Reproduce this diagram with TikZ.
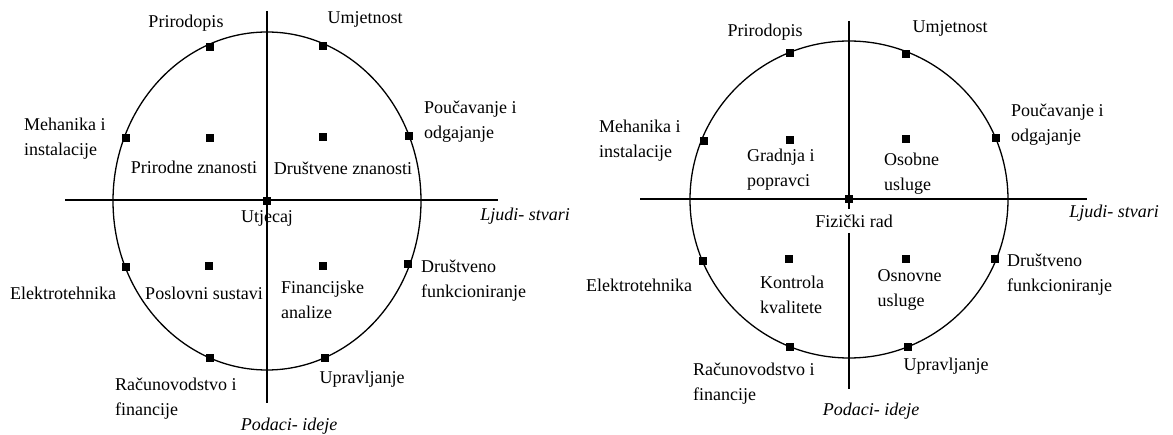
\documentclass[tikz,border=0pt]{standalone}
\usepackage{fontspec}
\setmainfont{Liberation Serif}
\begin{document}
\begin{tikzpicture}[x=1pt,y=-1pt,
  ln/.style={line width=1.3pt},
  sq/.style={rectangle,fill=black,minimum size=7.5pt,inner sep=0pt},
  lbl/.style={inner sep=0pt,font=\fontsize{18}{25}\selectfont},
  lbll/.style={lbl,align=left,anchor=west},
  axl/.style={lbl,font=\fontsize{18}{25}\selectfont\itshape}]
\useasboundingbox (0,0) rectangle (1173,435);
% ---------- left diagram ----------
\coordinate (LhW) at (65,200);
\coordinate (LhE) at (498,200);
\coordinate (LvN) at (267,11);
\coordinate (LvS) at (267,403);
\draw[ln] (267,201) ellipse [x radius=154, y radius=169];
\draw[ln] (LhW) -- (LhE);
\draw[ln] (LvN) -- (LvS);
\node[sq] (L1) at (210,47) {};
\node[sq] (L2) at (323,46) {};
\node[sq] (L3) at (126,138) {};
\node[sq] (L4) at (210,138) {};
\node[sq] (L5) at (323,137) {};
\node[sq] (L6) at (409,136) {};
\node[sq] (L0) at (267,201) {};
\node[sq] (L7) at (126,267) {};
\node[sq] (L8) at (209,266) {};
\node[sq] (L9) at (323,266) {};
\node[sq] (L10) at (408,264) {};
\node[sq] (L11) at (210,358) {};
\node[sq] (L12) at (325,358) {};
\node[lbl] (Lt1) at (186,23) {Prirodopis};
\node[lbl] (Lt2) at (365,19) {Umjetnost};
\node[lbll] (Lt3) at (24,138.5) {Mehanika i\\instalacije};
\node[lbll] (Lt4) at (424,121.5) {Poučavanje i\\odgajanje};
\node[lbl] (Lt5) at (194,167) {Prirodne znanosti};
\node[lbl] (Lt6) at (343,168) {Društvene znanosti};
\node[lbl] (Lt0) at (267,218) {Utjecaj};
\node[axl] (Lax1) at (525,216) {Ljudi- stvari};
\node[lbl] (Lt7) at (63,293) {Elektrotehnika};
\node[lbl] (Lt8) at (204,293) {Poslovni sustavi};
\node[lbll] (Lt9) at (281,299.5) {Financijske\\analize};
\node[lbll] (Lt10) at (421,280.5) {Društveno\\funkcioniranje};
\node[lbll] (Lt11) at (115,399) {Računovodstvo i\\financije};
\node[lbl] (Lt12) at (362,379) {Upravljanje};
\node[axl] (Lax2) at (289,426) {Podaci- ideje};
% ---------- right diagram ----------
\coordinate (RhW) at (640,199);
\coordinate (RhE) at (1087,199);
\coordinate (RvN) at (849,21);
\coordinate (RvA) at (849,209);
\coordinate (RvB) at (849,233);
\coordinate (RvS) at (849,389);
\draw[ln] (849,199.5) ellipse [x radius=159, y radius=158.5];
\draw[ln] (RhW) -- (RhE);
\draw[ln] (RvN) -- (RvA);
\draw[ln] (RvB) -- (RvS);
\node[sq] (R1) at (790,53) {};
\node[sq] (R2) at (906,54) {};
\node[sq] (R3) at (704,141) {};
\node[sq] (R4) at (790,140) {};
\node[sq] (R5) at (906,139) {};
\node[sq] (R6) at (996,138) {};
\node[sq] (R0) at (849,199) {};
\node[sq] (R7) at (703,261) {};
\node[sq] (R8) at (789,259) {};
\node[sq] (R9) at (906,259) {};
\node[sq] (R10) at (995,259) {};
\node[sq] (R11) at (790,347) {};
\node[sq] (R12) at (908,347) {};
\node[lbl] (Rt1) at (765,32) {Prirodopis};
\node[lbl] (Rt2) at (950,28) {Umjetnost};
\node[lbll] (Rt3) at (599,140.5) {Mehanika i\\instalacije};
\node[lbll] (Rt4) at (1011,125) {Poučavanje i\\odgajanje};
\node[lbll] (Rt5) at (747,169.5) {Gradnja i\\popravci};
\node[lbll] (Rt6) at (884,173.5) {Osobne\\usluge};
\node[lbl] (Rt0) at (854,221) {Fizički rad};
\node[axl] (Rax1) at (1114,213) {Ljudi- stvari};
\node[lbl] (Rt7) at (639,285) {Elektrotehnika};
\node[lbll] (Rt8) at (760,294.5) {Kontrola\\kvalitete};
\node[lbll] (Rt9) at (877.5,289.5) {Osnovne\\usluge};
\node[lbll] (Rt10) at (1007,274.5) {Društveno\\funkcioniranje};
\node[lbll] (Rt11) at (693,384) {Računovodstvo i\\financije};
\node[lbl] (Rt12) at (946,366) {Upravljanje};
\node[axl] (Rax2) at (871,411) {Podaci- ideje};
\end{tikzpicture}
\end{document}
